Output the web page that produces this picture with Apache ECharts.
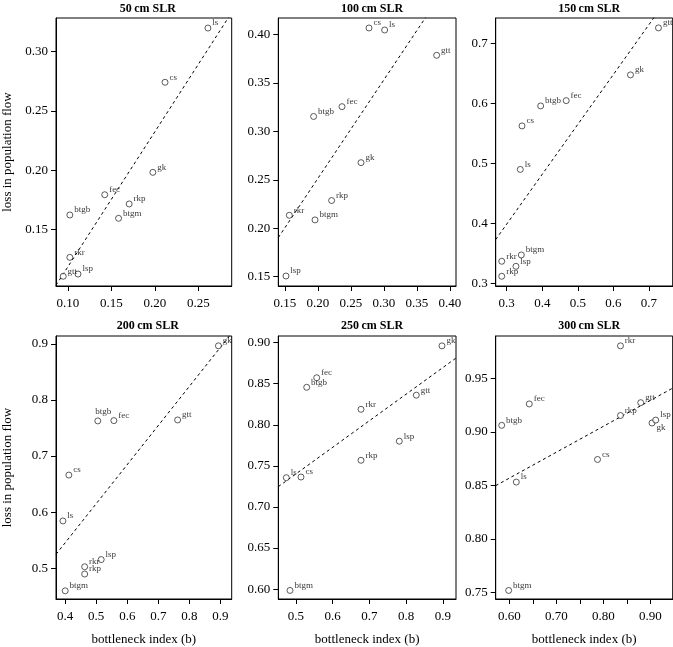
<!DOCTYPE html>
<html>
<head>
<meta charset="utf-8">
<script src="https://cdn.jsdelivr.net/npm/echarts@6/dist/echarts.min.js"></script>
<style>
html,body{margin:0;padding:0;background:#fff;}
#chart{width:673px;height:647px;}
</style>
</head>
<body>
<div id="chart"></div>
<script>
// ---------- data ----------
const species = ['btgb','btgm','cs','fec','gk','gtt','ls','lsp','rkp','rkr'];
const titles = ['50\u2009cm SLR','100\u2009cm SLR','150\u2009cm SLR','200\u2009cm SLR','250\u2009cm SLR','300\u2009cm SLR'];

// bottleneck index (b) and loss in population flow, per SLR scenario, in species order
const x50  = [0.1023,0.1583,0.2117,0.1424,0.1977,0.0947,0.2610,0.1117,0.1705,0.1023];
const y50  = [0.1621,0.1593,0.2742,0.1792,0.1981,0.1103,0.3200,0.1122,0.1714,0.1263];
const x100 = [0.1934,0.1955,0.2773,0.2364,0.2652,0.3798,0.3010,0.1515,0.2207,0.1566];
const y100 = [0.3154,0.2086,0.4067,0.3255,0.2677,0.3785,0.4046,0.1507,0.2286,0.2134];
const x150 = [0.3955,0.3410,0.3430,0.4674,0.6483,0.7270,0.3382,0.3260,0.2860,0.2860];
const y150 = [0.5955,0.3472,0.5622,0.6043,0.6472,0.7255,0.4897,0.3283,0.3117,0.3367];
const x200 = [0.5050,0.4000,0.4118,0.5568,0.8936,0.7621,0.3927,0.5159,0.4627,0.4627];
const y200 = [0.7626,0.4596,0.6660,0.7631,0.8965,0.7643,0.5842,0.5153,0.4895,0.5025];
const x250 = [0.5292,0.4837,0.5136,0.5564,0.8978,0.8278,0.4736,0.7815,0.6771,0.6771];
const y250 = [0.8456,0.5984,0.7364,0.8572,0.8960,0.8360,0.7356,0.7800,0.7568,0.8188];
const x300 = [0.5839,0.5987,0.7877,0.6425,0.9036,0.8796,0.6149,0.9115,0.8365,0.8365];
const y300 = [0.9061,0.7518,0.8742,0.9261,0.9083,0.9273,0.8531,0.9110,0.9153,0.9804];

// axis ticks and tick labels
const xTicks50  = [0.10,0.15,0.20,0.25];
const yTicks50  = [0.15,0.20,0.25,0.30];
const xTicks100 = [0.15,0.20,0.25,0.30,0.35,0.40];
const yTicks100 = [0.15,0.20,0.25,0.30,0.35,0.40];
const xTicks150 = [0.3,0.4,0.5,0.6,0.7];
const yTicks150 = [0.3,0.4,0.5,0.6,0.7];
const xTicks200 = [0.4,0.5,0.6,0.7,0.8,0.9];
const yTicks200 = [0.5,0.6,0.7,0.8,0.9];
const xTicks250 = [0.5,0.6,0.7,0.8,0.9];
const yTicks250 = [0.60,0.65,0.70,0.75,0.80,0.85,0.90];
const xTicks300 = [0.60,0.65,0.70,0.75,0.80,0.85,0.90];
const xLabels300 = [0.60,0.70,0.80,0.90];
const yTicks300 = [0.75,0.80,0.85,0.90,0.95];

// axis ranges
const xRanges = [[0.0864,0.2883],[0.1399,0.4091],[0.269,0.767],[0.3704,0.9363],[0.4518,0.936],[0.5711,0.9476]];
const yRanges = [[0.1021,0.3285],[0.1404,0.417],[0.2955,0.742],[0.445,0.914],[0.588,0.908],[0.7438,0.9896]];

// ---------- build ----------
const FONT = 'Liberation Serif, Times New Roman, serif';
const panels = [
  {x:x50, y:y50, xt:xTicks50, xl:xTicks50, yt:yTicks50, dx:2, dy:2},
  {x:x100,y:y100,xt:xTicks100,xl:xTicks100,yt:yTicks100,dx:2, dy:2},
  {x:x150,y:y150,xt:xTicks150,xl:xTicks150,yt:yTicks150,dx:1, dy:1},
  {x:x200,y:y200,xt:xTicks200,xl:xTicks200,yt:yTicks200,dx:1, dy:1},
  {x:x250,y:y250,xt:xTicks250,xl:xTicks250,yt:yTicks250,dx:1, dy:2},
  {x:x300,y:y300,xt:xTicks300,xl:xLabels300,yt:yTicks300,dx:2, dy:2}
];
const lefts = [54, 278.3, 495.7];
const widths = [177.7, 177.7, 177];
const tops = [18, 336];
const heights = [268, 267];
const labelOverrides = {
  3: {btgb: [-7, -9]},
  5: {gk: [0, 5]}
};

function ols(xs, ys) {
  const n = xs.length;
  const mx = xs.reduce((a,b)=>a+b,0)/n, my = ys.reduce((a,b)=>a+b,0)/n;
  let sxy = 0, sxx = 0;
  for (let i=0;i<n;i++){ sxy += (xs[i]-mx)*(ys[i]-my); sxx += (xs[i]-mx)*(xs[i]-mx); }
  const b = sxy/sxx; return {a: my - b*mx, b: b};
}

const grid = [], xAxis = [], yAxis = [], series = [], title = [];
panels.forEach((p, i) => {
  const col = i % 3, row = Math.floor(i / 3);
  grid.push({left: lefts[col], top: tops[row], width: widths[col], height: heights[row],
    show: true, borderColor: '#000', borderWidth: 1, backgroundColor: 'transparent'});
  title.push({text: titles[i], left: lefts[col] + widths[col]/2, top: row === 0 ? -2 : 315,
    textAlign: 'center', textStyle: {fontFamily: FONT, fontSize: 12, fontWeight: 'bold', color: '#000'}});
  xAxis.push({
    type: 'value', gridIndex: i, min: xRanges[i][0], max: xRanges[i][1],
    axisLine: {show: true, onZero: false, lineStyle: {color: '#000', width: 1}},
    axisTick: {show: true, customValues: p.xt, length: 5, lineStyle: {color: '#000'}},
    axisLabel: {customValues: p.xl, formatter: v => v.toFixed(p.dx), margin: 11,
      color: '#000', fontFamily: FONT, fontSize: 13},
    splitLine: {show: false},
    name: row === 1 ? 'bottleneck index (b)' : '', nameLocation: 'middle', nameGap: 34,
    nameTextStyle: {fontFamily: FONT, fontSize: 13, color: '#000'}
  });
  yAxis.push({
    type: 'value', gridIndex: i, min: yRanges[i][0], max: yRanges[i][1],
    axisLine: {show: true, onZero: false, lineStyle: {color: '#000', width: 1}},
    axisTick: {show: true, customValues: p.yt, length: 5, lineStyle: {color: '#000'}},
    axisLabel: {customValues: p.yt, formatter: v => v.toFixed(p.dy), margin: 8,
      color: '#000', fontFamily: FONT, fontSize: 13},
    splitLine: {show: false},
    name: col === 0 ? 'loss in population flow' : '', nameLocation: 'middle', nameGap: 42,
    nameTextStyle: {fontFamily: FONT, fontSize: 13, color: '#000'}
  });
  const fit = ols(p.x, p.y);
  const x0 = xRanges[i][0], x1 = xRanges[i][1];
  series.push({
    type: 'line', xAxisIndex: i, yAxisIndex: i, silent: true, symbol: 'none', clip: true,
    data: [[x0, fit.a + fit.b*x0], [x1, fit.a + fit.b*x1]],
    lineStyle: {type: [3, 3], width: 1, color: '#000'}, z: 1
  });
  const ov = labelOverrides[i] || {};
  series.push({
    type: 'scatter', xAxisIndex: i, yAxisIndex: i, symbol: 'circle', symbolSize: 6, z: 3,
    itemStyle: {color: '#fff', borderColor: '#000', borderWidth: 0.8},
    label: {show: true, formatter: '{b}', position: 'right', distance: 1, offset: [0, -5],
      fontFamily: FONT, fontSize: 9, color: '#000'},
    data: species.map((s, k) => {
      const d = {name: s, value: [p.x[k], p.y[k]]};
      if (ov[s]) d.label = {offset: ov[s]};
      return d;
    })
  });
});

const chart = echarts.init(document.getElementById('chart'), null, {renderer: 'canvas'});
chart.setOption({animation: false, backgroundColor: '#fff', title, grid, xAxis, yAxis, series});
</script>
</body>
</html>
